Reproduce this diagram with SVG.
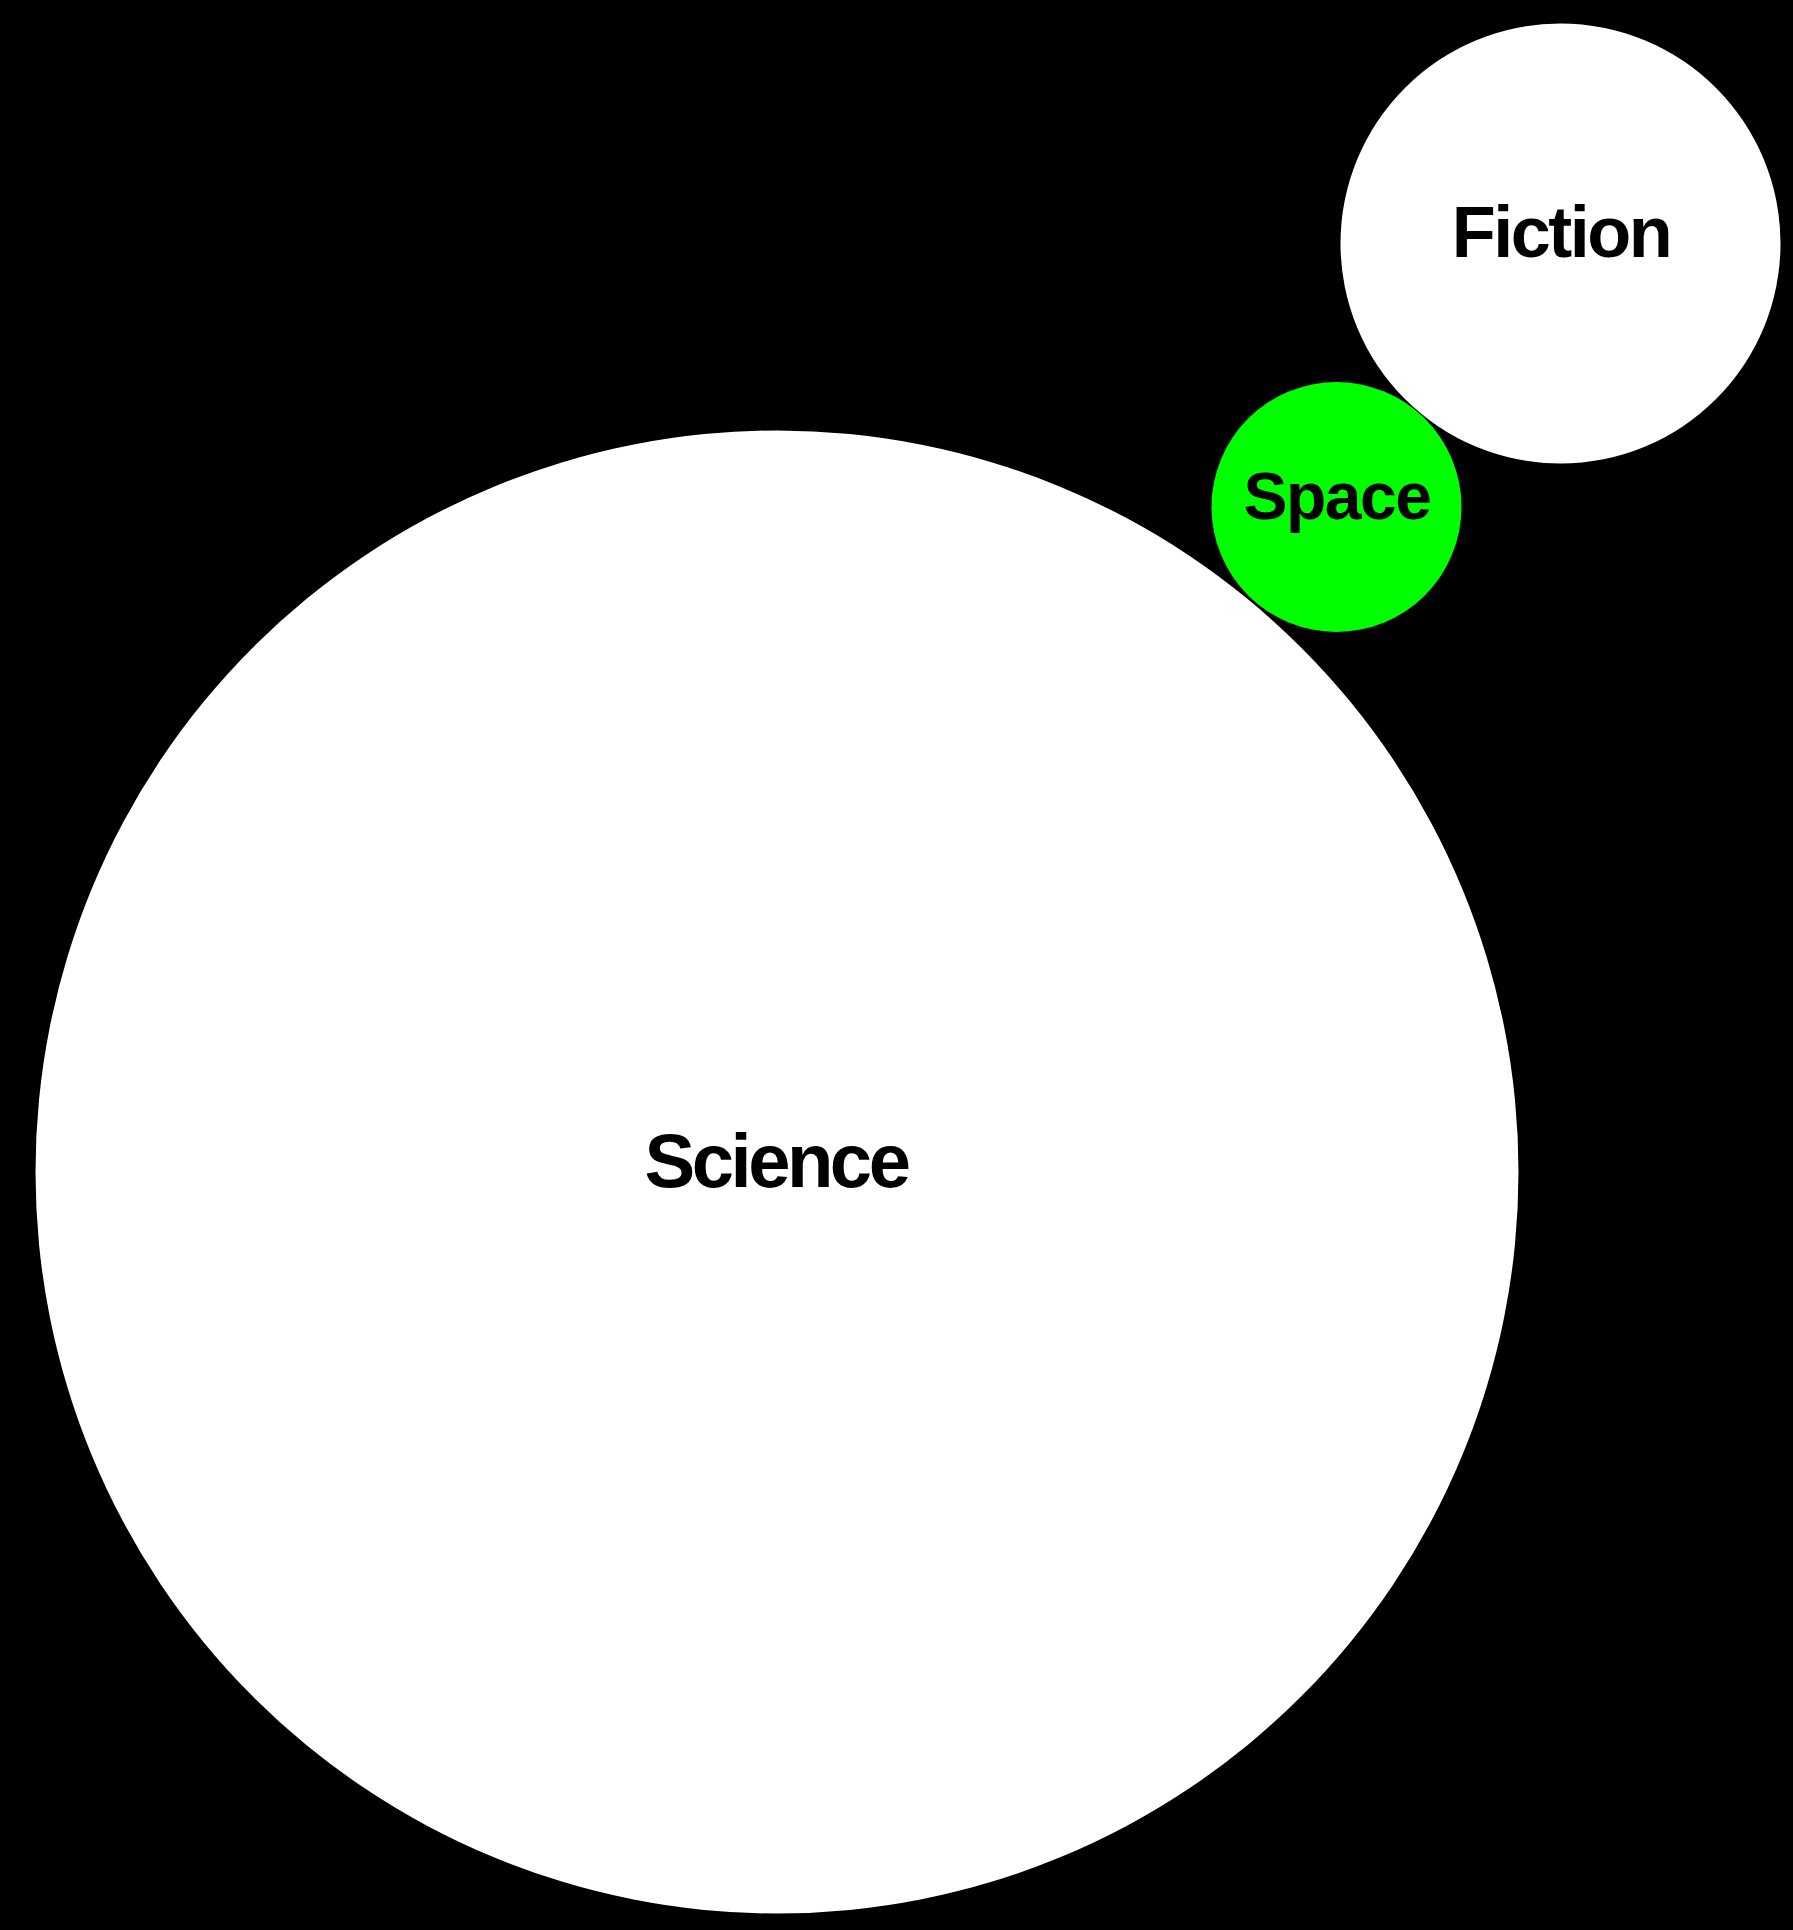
<svg xmlns="http://www.w3.org/2000/svg" width="1793" height="1930" viewBox="0 0 1793 1930">
<style>
.lbl{font-family:"Liberation Sans",Arial,Helvetica,sans-serif;font-weight:bold;fill:#000;text-anchor:middle}
.w{fill:#fff}
.g{fill:#00ff00}
</style>
<rect x="0" y="0" width="1793" height="1930" fill="#000"/>
<g id="connectors"></g>
<g id="science">
<circle class="w" cx="777" cy="1172" r="741.5"/>
<text class="lbl" x="776" y="1187" font-size="76" letter-spacing="-3.5">Science</text>
</g>
<g id="fiction">
<circle class="w" cx="1560.5" cy="243.5" r="220"/>
<text class="lbl" x="1561" y="257" font-size="72" letter-spacing="-2.5">Fiction</text>
</g>
<g id="space">
<circle class="g" cx="1336.5" cy="507" r="125"/>
<text class="lbl" x="1337" y="519" font-size="66" letter-spacing="-1.5">Space</text>
</g>
</svg>
